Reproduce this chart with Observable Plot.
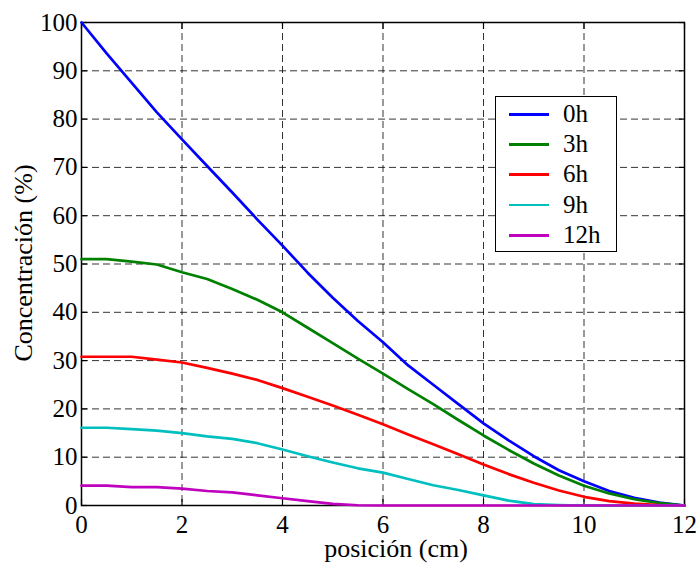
<!DOCTYPE html>
<html>
<head>
<meta charset="utf-8">
<script src="https://cdn.jsdelivr.net/npm/d3@7"></script>
<script src="https://cdn.jsdelivr.net/npm/@observablehq/plot@0.6"></script>
<style>
  html, body { margin: 0; padding: 0; background: #fff; }
  #wrap { position: relative; width: 698px; height: 563px; font-family: "Liberation Serif", serif; }
  #legend {
    position: absolute; left: 495px; top: 96px; width: 120px; height: 154px;
    border: 1.5px solid #000; background: #fff;
    font-family: "Liberation Serif", serif; font-size: 25px;
  }
  .row { position: absolute; left: 0; height: 30px; width: 100%; }
  .row .sw { position: absolute; left: 13px; width: 40px; top: 14px; height: 2.8px; }
  .row .lb { position: absolute; left: 67px; top: 0; line-height: 30px; }
</style>
</head>
<body>
<div id="wrap"></div>
<script>
// x positions (cm)
const positions = [0,0.5,1,1.5,2,2.5,3,3.5,4,4.5,5,5.5,6,6.5,7,7.5,8,8.5,9,9.5,10,10.5,11,11.5,12];
// concentration (%) per time series
const c0h  = [100,93.6,87.5,81.4,75.8,70.3,64.8,59.2,53.8,48.2,43.0,38.2,33.8,29.0,25.0,21.0,17.0,13.5,10.2,7.3,5.0,3.0,1.6,0.6,0];
const c3h  = [51,51,50.5,49.9,48.3,46.9,44.8,42.6,40.0,36.8,33.6,30.4,27.3,24.1,21.0,17.7,14.5,11.5,8.7,6.2,4.1,2.5,1.3,0.5,0];
const c6h  = [30.8,30.8,30.8,30.2,29.6,28.5,27.3,26.0,24.3,22.5,20.7,18.8,16.8,14.7,12.7,10.6,8.5,6.5,4.7,3.1,1.8,0.9,0.4,0.1,0];
const c9h  = [16.1,16.1,15.8,15.5,15.0,14.3,13.8,12.9,11.6,10.2,8.9,7.7,6.8,5.5,4.2,3.2,2.1,1.0,0.3,0.1,0,0,0,0,0];
const c12h = [4.1,4.1,3.8,3.8,3.5,3.0,2.7,2.1,1.5,0.9,0.35,0.05,0,0,0,0,0,0,0,0,0,0,0,0,0];
const seriesNames = ["0h","3h","6h","9h","12h"];
const seriesValues = [c0h, c3h, c6h, c9h, c12h];
const seriesColors = ["#0000ff","#008000","#ff0000","#00bfbf","#bf00bf"];
const xTicks = [0,2,4,6,8,10,12];
const yTicks = [0,10,20,30,40,50,60,70,80,90,100];
const xLabel = "posición (cm)";
const yLabel = "Concentración (%)";

const rows = [];
seriesNames.forEach((s, i) => positions.forEach((p, j) => rows.push({pos: p, conc: seriesValues[i][j], series: s})));

const gridStyle = {stroke: "#000", strokeOpacity: 0.8, strokeWidth: 1, strokeDasharray: "7,4"};

const chart = Plot.plot({
  width: 698,
  height: 563,
  marginLeft: 81,
  marginRight: 14,
  marginTop: 22,
  marginBottom: 58,
  style: "font-family: 'Liberation Serif', serif; font-size: 25px; background: #fff; color: #000;",
  x: {domain: [0, 12]},
  y: {domain: [0, 100]},
  color: {domain: seriesNames, range: seriesColors},
  marks: [
    Plot.gridX(xTicks, gridStyle),
    Plot.gridY(yTicks, gridStyle),
    Plot.axisX(xTicks, {tickSize: 0, tickPadding: 10, label: null, tickFormat: d => String(d), fontSize: 25}),
    Plot.axisY(yTicks, {tickSize: 0, tickPadding: 4, label: null, tickFormat: d => String(d), fontSize: 25}),
    Plot.axisX(xTicks, {anchor: "bottom", tickSize: -6, tickFormat: () => "", label: null, strokeWidth: 1.2}),
    Plot.axisX(xTicks, {anchor: "top", tickSize: -6, tickFormat: () => "", label: null, strokeWidth: 1.2}),
    Plot.axisY(yTicks, {anchor: "left", tickSize: -6, tickFormat: () => "", label: null, strokeWidth: 1.2}),
    Plot.axisY(yTicks, {anchor: "right", tickSize: -6, tickFormat: () => "", label: null, strokeWidth: 1.2}),
    Plot.frame({stroke: "#000", strokeWidth: 1.5}),
    Plot.line(rows, {x: "pos", y: "conc", z: "series", stroke: "series", strokeWidth: 2.7, strokeLinejoin: "round"}),
    Plot.text([xLabel], {text: d => d, frameAnchor: "bottom", textAnchor: "middle", lineAnchor: "bottom", dx: 13, dy: 51, fontSize: 26}),
    Plot.text([yLabel], {text: d => d, frameAnchor: "left", textAnchor: "middle", lineAnchor: "middle", rotate: -90, dx: -58, dy: -1, fontSize: 26})
  ]
});

const wrap = document.getElementById("wrap");
wrap.appendChild(chart);

const legend = document.createElement("div");
legend.id = "legend";
seriesNames.forEach((s, i) => {
  const r = document.createElement("div");
  r.className = "row";
  r.style.top = (2 + i * 30.2) + "px";
  const sw = document.createElement("div");
  sw.className = "sw";
  sw.style.background = seriesColors[i];
  const lb = document.createElement("div");
  lb.className = "lb";
  lb.textContent = s;
  r.appendChild(sw); r.appendChild(lb);
  legend.appendChild(r);
});
wrap.appendChild(legend);
</script>
</body>
</html>
